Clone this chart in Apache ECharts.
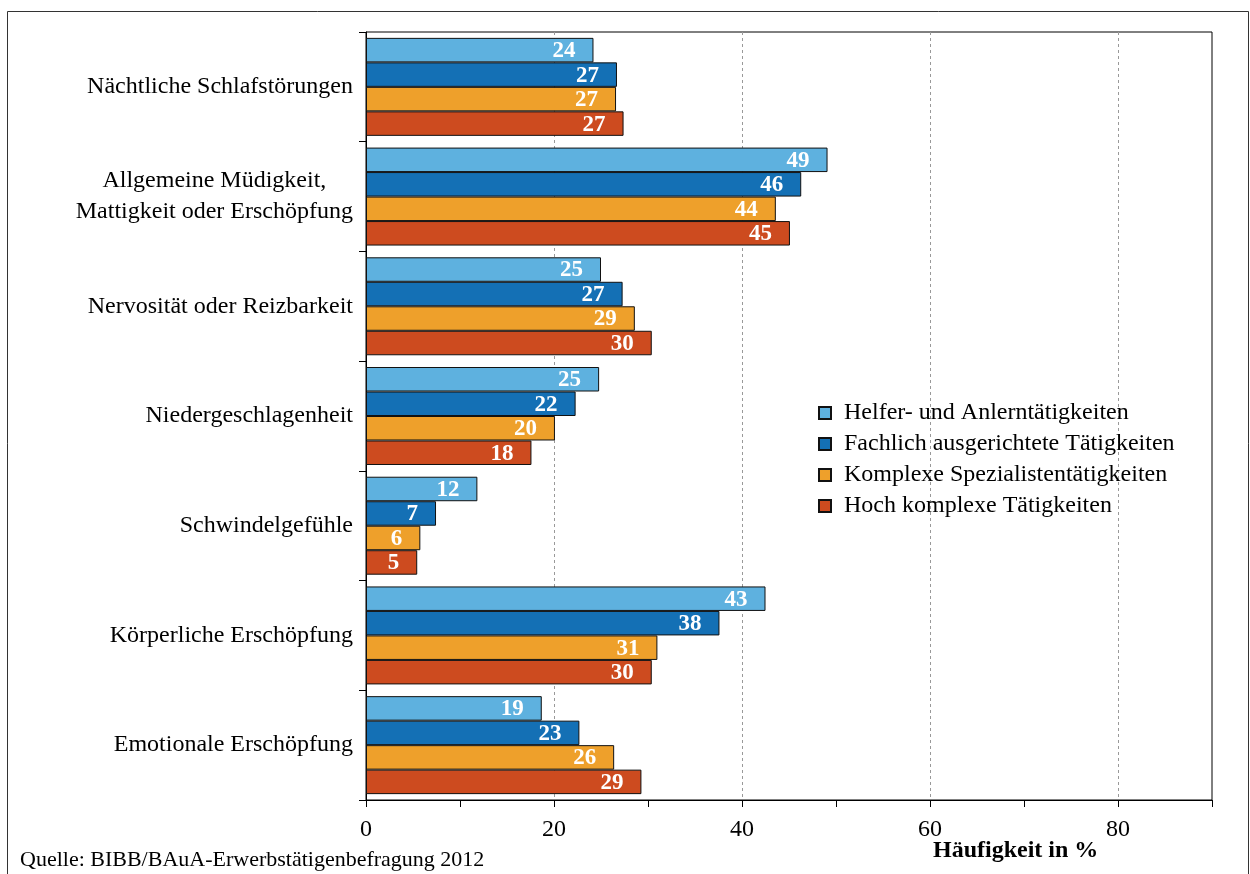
<!DOCTYPE html>
<html>
<head>
<meta charset="utf-8">
<script src="https://cdn.jsdelivr.net/npm/echarts@6/dist/echarts.min.js"></script>
<style>
html,body{margin:0;padding:0;background:#fff;}
#c{width:1250px;height:874px;}
</style>
</head>
<body>
<div id="c"></div>
<script>
var categories = [
  'Nächtliche Schlafstörungen',
  'Allgemeine Müdigkeit,\nMattigkeit oder Erschöpfung',
  'Nervosität oder Reizbarkeit',
  'Niedergeschlagenheit',
  'Schwindelgefühle',
  'Körperliche Erschöpfung',
  'Emotionale Erschöpfung'
];
var seriesNames = [
  'Helfer- und Anlerntätigkeiten',
  'Fachlich ausgerichtete Tätigkeiten',
  'Komplexe Spezialistentätigkeiten',
  'Hoch komplexe Tätigkeiten'
];
var helfer      = [24.2, 49.1, 25.0, 24.8, 11.85, 42.5, 18.7];
var fachlich    = [26.7, 46.3, 27.3, 22.3, 7.45, 37.6, 22.7];
var komplex     = [26.6, 43.6, 28.6, 20.1, 5.78, 31.0, 26.4];
var hoch        = [27.4, 45.1, 30.4, 17.6, 5.45, 30.4, 29.3];
var xTickLabels = [0, 20, 40, 60, 80];
var colors = ['#5EB1DF', '#1470B5', '#EEA02B', '#CD4B1F'];

var FONT = '"Liberation Serif", "Times New Roman", serif';
var values = [helfer, fachlich, komplex, hoch];

var chart = echarts.init(document.getElementById('c'), null, {renderer: 'canvas'});
var series = values.map(function (arr, i) {
  return {
    name: seriesNames[i],
    type: 'bar',
    data: arr,
    xAxisIndex: 0,
    barGap: '0%',
    barCategoryGap: '10.7%',
    itemStyle: {color: colors[i], borderColor: '#111', borderWidth: 1},
    label: {
      show: true,
      position: 'insideRight',
      offset: [-13, 1],
      color: '#fff',
      fontFamily: FONT,
      fontWeight: 'bold',
      fontSize: 23,
      formatter: function (p) { return Math.round(p.value); }
    },
    emphasis: {disabled: true}
  };
});

chart.setOption({
  animation: false,
  textStyle: {fontFamily: FONT},
  grid: {left: 366, top: 32, right: 38, bottom: 74, show: true, borderColor: '#000', borderWidth: 1, backgroundColor: 'transparent'},
  legend: {
    orient: 'vertical',
    left: 813,
    top: 396,
    itemWidth: 12,
    itemHeight: 12,
    itemGap: 7,
    icon: 'rect',
    data: seriesNames,
    textStyle: {fontFamily: FONT, fontSize: 24, color: '#000', padding: [0, 0, 0, 8]}
  },
  xAxis: [{
    type: 'value',
    min: 0, max: 90, interval: 10,
    axisLine: {show: true, lineStyle: {color: '#000', width: 1}},
    axisTick: {show: true, length: 7, lineStyle: {color: '#000'}},
    axisLabel: {
      color: '#000', fontFamily: FONT, fontSize: 24, margin: 18,
      formatter: function (v) { return xTickLabels.indexOf(v) >= 0 ? String(v) : ''; }
    },
    splitLine: {show: false}
  }, {
    type: 'value',
    position: 'bottom',
    min: 0, max: 90, interval: 20,
    axisLine: {show: false}, axisTick: {show: false}, axisLabel: {show: false},
    splitLine: {show: true, showMinLine: false, showMaxLine: false, lineStyle: {color: '#999', type: [3, 3], width: 1}}
  }],
  yAxis: {
    type: 'category',
    inverse: true,
    data: categories,
    axisLine: {show: true, lineStyle: {color: '#000', width: 1}},
    axisTick: {show: true, length: 7, lineStyle: {color: '#000'}},
    axisLabel: {
      color: '#000', fontFamily: FONT, fontSize: 24, margin: 13, lineHeight: 31,
      formatter: function (v) {
        var parts = v.split('\n');
        if (parts.length === 1) return v;
        return '{a|' + parts[0] + '}\n{b|' + parts[1] + '}';
      },
      rich: {
        a: {fontFamily: FONT, fontSize: 24, color: '#000', width: 263, align: 'center', lineHeight: 31},
        b: {fontFamily: FONT, fontSize: 24, color: '#000', lineHeight: 31}
      }
    },
    splitLine: {show: false}
  },
  series: series,
  graphic: [
    {type: 'rect', silent: true, z: 100, shape: {x: 7.5, y: 11.5, width: 1241, height: 900}, style: {fill: 'none', stroke: '#333', lineWidth: 1}},
    {type: 'text', left: 20, top: 849, style: {text: 'Quelle: BIBB/BAuA-Erwerbstätigenbefragung 2012', fontFamily: FONT, fontSize: 22, fill: '#000'}},
    {type: 'text', left: 933, top: 839, style: {text: 'Häufigkeit in %', fontFamily: FONT, fontSize: 24, fontWeight: 'bold', fill: '#000'}}
  ]
});
</script>
</body>
</html>
